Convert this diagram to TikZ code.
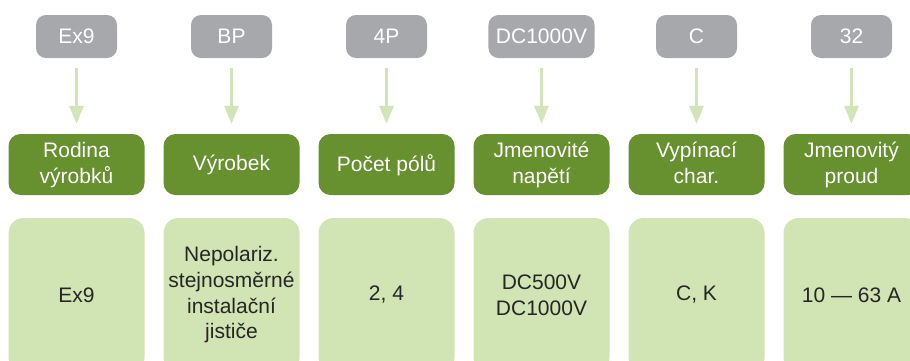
\documentclass[tikz,border=0pt]{standalone}
\usepackage{fontspec}
\setmainfont{Liberation Sans}
\usetikzlibrary{arrows.meta}
\definecolor{codegray}{HTML}{A7A8AB}
\definecolor{headgreen}{HTML}{67902F}
\definecolor{cellgreen}{HTML}{D1E4B3}
\definecolor{arrowgreen}{HTML}{D3E5B8}
\definecolor{celltext}{HTML}{262626}
\begin{document}
\begin{tikzpicture}[x=1pt,y=-1pt,
  codebox/.style={fill=codegray, text=white, rounded corners=10pt, minimum width=81pt, minimum height=43pt, inner xsep=7.5pt, inner ysep=0pt, font=\fontsize{21}{26}\selectfont},
  headbox/.style={fill=headgreen, text=white, rounded corners=12pt, minimum width=136pt, minimum height=61pt, inner sep=0pt, text depth=3pt, align=center, font=\fontsize{21}{26}\selectfont},
  cellbox/.style={fill=cellgreen, text=celltext, rounded corners=15pt, minimum width=136pt, minimum height=154pt, inner sep=0pt, align=center, font=\fontsize{21}{25.7}\selectfont},
  flow/.style={draw=arrowgreen, line width=3pt, -{Triangle[width=14pt,length=18pt]}, shorten <=10pt, shorten >=10pt}
]
\useasboundingbox (0,0) rectangle (910,360);
\clip (0,0) rectangle (910,360);
\foreach \i/\code/\head/\cell in {
  0/Ex9/{Rodina\\výrobků}/Ex9,
  1/BP/Výrobek/{Nepolariz.\\stejnosměrné\\instalační\\jističe},
  2/4P/Počet pólů/{2, 4},
  3/DC1000V/{Jmenovité\\napětí}/{DC500V\\DC1000V},
  4/C/{Vypínací\\char.}/{C, K},
  5/32/{Jmenovitý\\proud}/{10 — 63 A}} {
  \node[codebox] (c\i) at (76.5+155*\i, 36.5) {\code};
  \node[headbox] (h\i) at (76.5+155*\i, 164.5) {\head};
  \node[cellbox] (v\i) at (76.5+155*\i, 295) {\cell};
  \draw[flow] (c\i) -- (h\i);
}
\end{tikzpicture}
\end{document}
